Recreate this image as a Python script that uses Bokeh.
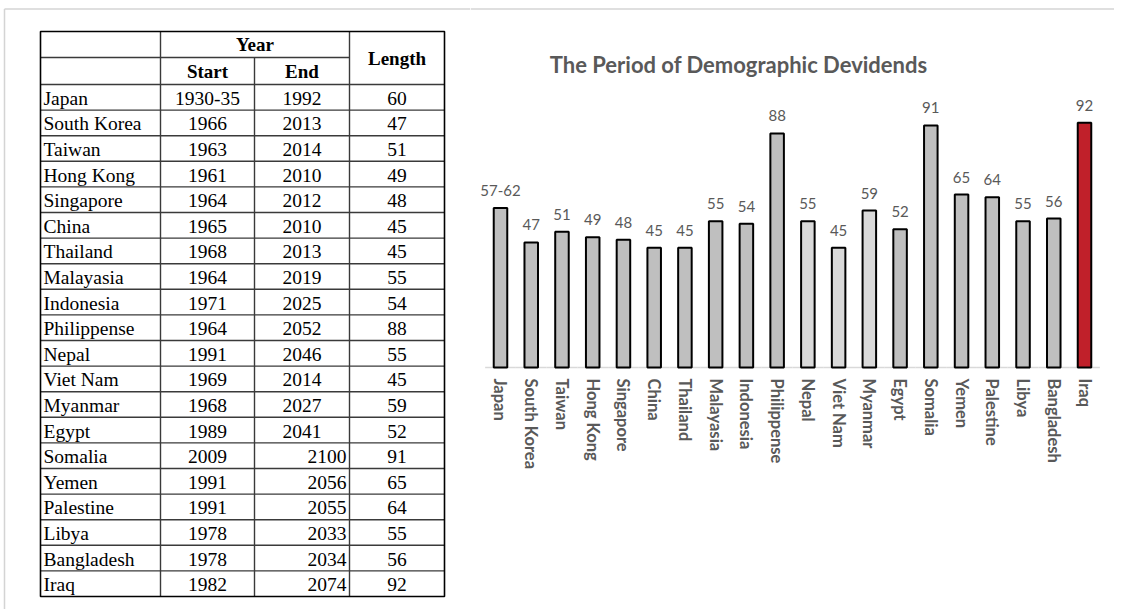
import math
from bokeh.plotting import figure
from bokeh.layouts import row
from bokeh.models import Range1d, ColumnDataSource, FactorRange, Span
from bokeh.core.properties import value
from bokeh.embed import file_html
from bokeh.resources import INLINE

# ---------------- data ----------------
countries = ["Japan", "South Korea", "Taiwan", "Hong Kong", "Singapore", "China",
             "Thailand", "Malayasia", "Indonesia", "Philippense", "Nepal", "Viet Nam",
             "Myanmar", "Egypt", "Somalia", "Yemen", "Palestine", "Libya",
             "Bangladesh", "Iraq"]
start_year = ["1930-35", "1966", "1963", "1961", "1964", "1965", "1968", "1964", "1971",
              "1964", "1991", "1969", "1968", "1989", "2009", "1991", "1991", "1978",
              "1978", "1982"]
end_year = ["1992", "2013", "2014", "2010", "2012", "2010", "2013", "2019", "2025",
            "2052", "2046", "2014", "2027", "2041", "2100", "2056", "2055", "2033",
            "2034", "2074"]
length = [60, 47, 51, 49, 48, 45, 45, 55, 54, 88, 55, 45, 59, 52, 91, 65, 64, 55, 56, 92]
bar_labels = ["57-62", "47", "51", "49", "48", "45", "45", "55", "54", "88", "55", "45",
              "59", "52", "91", "65", "64", "55", "56", "92"]
light_group = ["Nepal", "Viet Nam", "Myanmar"]
highlight = ["Iraq"]
chart_title = "The Period of Demographic Devidends"

FRAME_GREY = "#D4D4D4"
FIG_H = 609

# ---------------- table figure ----------------
SERIF = value("Liberation Serif")
t = figure(width=470, height=FIG_H, x_range=Range1d(0, 470), y_range=Range1d(FIG_H, 0),
           x_axis_location=None, y_axis_location=None, toolbar_location=None,
           output_backend="svg", min_border=0, outline_line_color=None)
t.xgrid.visible = False
t.ygrid.visible = False
t.segment(x0=[4, 4], y0=[8.5, 8.5], x1=[470, 4], y1=[8.5, FIG_H],
          line_color=FRAME_GREY, line_width=1.5)

L, C1, C2, C3, R = 40, 160, 254, 349, 444
TOP, H1, H2, BOT = 31, 57, 84, 596
n = len(countries)
rh = (BOT - H2) / n
row_lines = [H2 + i * rh for i in range(1, n)]

# inner lines
x0 = [L] + [L] * len(row_lines) + [C1, C2, C3]
x1 = [C3] + [R] * len(row_lines) + [C1, C2, C3]
y0 = [H1] + row_lines + [TOP, H1, TOP]
y1 = [H1] + row_lines + [BOT, BOT, BOT]
t.segment(x0=x0, y0=y0, x1=x1, y1=y1, line_color="#3a3a3a", line_width=1.4)
t.segment(x0=[L], y0=[H2], x1=[R], y1=[H2], line_color="#3a3a3a", line_width=1.4)
# outer frame
t.rect(x=[(L + R) / 2], y=[(TOP + BOT) / 2], width=[R - L], height=[BOT - TOP],
       fill_color=None, line_color="black", line_width=1.6)

# header
t.text(x=[(C1 + C3) / 2, (C1 + C2) / 2, (C2 + C3) / 2, (C3 + R) / 2],
       y=[(TOP + H1) / 2, (H1 + H2) / 2, (H1 + H2) / 2, (TOP + H2) / 2],
       text=["Year", "Start", "End", "Length"], text_font=SERIF,
       text_font_style="bold", text_font_size="19px", text_align="center",
       text_baseline="middle", text_color="black")

ys = [H2 + (i + 0.5) * rh + 1 for i in range(n)]
t.text(x=[L + 3] * n, y=ys, text=countries, text_font=SERIF, text_font_size="19.5px",
       text_align="left", text_baseline="middle", text_color="black")
t.text(x=[(C1 + C2) / 2] * n, y=ys, text=start_year, text_font=SERIF,
       text_font_size="19.5px", text_align="center", text_baseline="middle",
       text_color="black")
end_x = [(C2 + C3) / 2 if i < 14 else C3 - 3 for i in range(n)]
end_al = ["center" if i < 14 else "right" for i in range(n)]
t.text(x=end_x, y=ys, text=end_year, text_font=SERIF, text_font_size="19.5px",
       text_align=end_al, text_baseline="middle", text_color="black")
t.text(x=[(C3 + R) / 2] * n, y=ys, text=[str(v) for v in length], text_font=SERIF,
       text_font_size="19.5px", text_align="center", text_baseline="middle",
       text_color="black")

# ---------------- chart figure ----------------
SANS = value("Lato")
GREY = "#595959"
K = 2.66            # pixels per unit
BASE = 367          # baseline position from top of figure
YMAX = BASE / K
YMIN = -(FIG_H - BASE) / K
p = figure(width=644, height=FIG_H,
           x_range=FactorRange(factors=countries, range_padding=0.0476,
                               range_padding_units="percent"),
           y_range=Range1d(YMIN, YMAX),
           x_axis_location=None, y_axis_location=None, toolbar_location=None,
           output_backend="svg", min_border=0, outline_line_color=None)
p.xgrid.visible = False
p.ygrid.visible = False
p.add_layout(Span(location=YMAX - 8.5 / K, dimension="width", line_color=FRAME_GREY,
                  line_width=1.5))

colors = ["#C0202A" if c in highlight else ("#D9D9D9" if c in light_group else "#BFBFBF")
          for c in countries]
src = ColumnDataSource(dict(x=countries, top=length, color=colors, label=bar_labels,
                            zero=[0] * n))
# category axis line
p.rect(x="x", y="zero", width=1.0, height=1.5, height_units="screen",
       fill_color="#D9D9D9", line_color=None, source=src)
p.vbar(x="x", top="top", bottom=0, width=0.44, fill_color="color",
       line_color="black", line_width=2, source=src)
p.text(x="x", y="top", text="label", source=src, text_font=SANS,
       text_font_size="15px", text_align="center", text_baseline="bottom",
       y_offset=-12, text_color=GREY)
# category labels (rotated, reading downward)
p.text(x="x", y="zero", text="x", source=src, angle=-math.pi / 2, y_offset=11,
       text_font=SANS, text_font_style="bold", text_font_size="16.5px",
       text_align="left", text_baseline="middle", text_color=GREY)

# chart title
p.text(x=["Malayasia"], y=[YMAX], text=[chart_title], x_offset=23, y_offset=64,
       text_font=SANS, text_font_style="bold", text_font_size="22px",
       text_align="center", text_baseline="middle", text_color=GREY)

layout = row(t, p, spacing=0)
open("out.html", "w").write(file_html(layout, INLINE))
